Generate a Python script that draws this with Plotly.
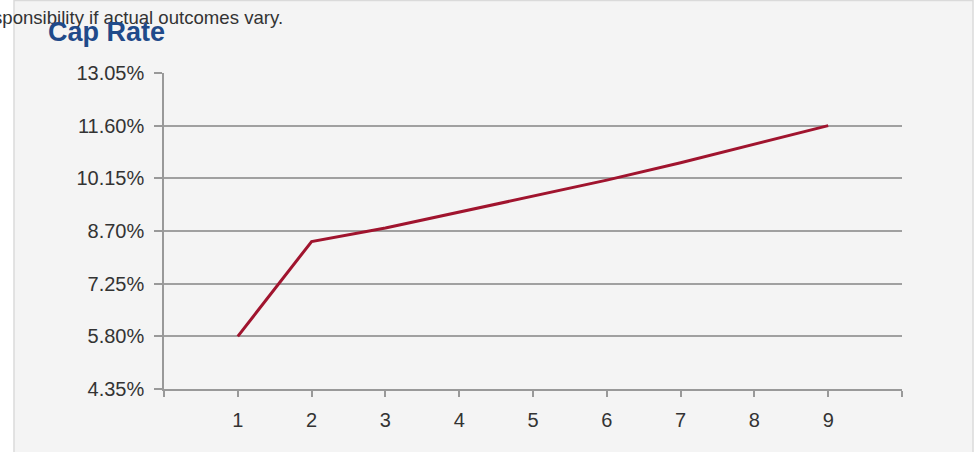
import plotly.graph_objects as go

years = [1, 2, 3, 4, 5, 6, 7, 8, 9]
cap_rate = [5.80, 8.41, 8.78, 9.22, 9.65, 10.10, 10.58, 11.08, 11.60]
y_ticks = [4.35, 5.80, 7.25, 8.70, 10.15, 11.60, 13.05]
y_labels = [f"{v:.2f}%" for v in y_ticks]
x_ticks = [0, 1, 2, 3, 4, 5, 6, 7, 8, 9, 10]
x_labels = ["", "1", "2", "3", "4", "5", "6", "7", "8", "9", ""]

W, H = 980, 452
L, T = 164, 73
R = W - 902
B = H - 389
pw, ph = W - L - R, H - T - B

def px(x):
    return (x - L) / pw

def py(y):
    return (H - B - y) / ph

fig = go.Figure()
fig.add_trace(go.Scatter(
    x=years, y=cap_rate, mode="lines",
    line=dict(color="#a0142e", width=3),
    hoverinfo="x+y",
))

fig.add_shape(type="rect", xref="paper", yref="paper",
              x0=px(14), x1=px(973), y0=py(470), y1=py(0.5),
              fillcolor="#f4f4f4", line=dict(color="#dadada", width=1.5),
              layer="below")

fig.add_annotation(xref="paper", yref="paper", x=px(285), y=py(18),
                   xanchor="right", yanchor="middle", showarrow=False,
                   text="sponsibility if actual outcomes vary.",
                   font=dict(family="Liberation Sans", size=18.6, color="#333333"))
fig.add_annotation(xref="paper", yref="paper", x=px(46), y=py(32),
                   xanchor="left", yanchor="middle", showarrow=False,
                   text="<b>Cap Rate</b>",
                   font=dict(family="Liberation Sans", size=27, color="#1f4a8a"))

fig.update_layout(
    width=W, height=H,
    margin=dict(l=L, r=R, t=T, b=B, pad=0),
    paper_bgcolor="white",
    plot_bgcolor="#f4f4f4",
    showlegend=False,
    font=dict(family="Liberation Sans", color="#333333"),
)
fig.update_xaxes(
    range=[0, 10], tickmode="array", tickvals=x_ticks, ticktext=x_labels,
    showgrid=False, zeroline=False,
    showline=True, linecolor="#999999", linewidth=1.5,
    ticks="outside", ticklen=6, tickcolor="#999999", tickwidth=1.5,
    tickfont=dict(size=20, color="#333333"), ticklabelstandoff=6,
)
fig.update_yaxes(
    range=[4.35, 13.05], tickmode="array", tickvals=y_ticks, ticktext=y_labels,
    showgrid=True, gridcolor="#a0a0a0", gridwidth=1.5, zeroline=False,
    showline=True, linecolor="#999999", linewidth=1.5,
    ticks="outside", ticklen=8, tickcolor="#999999", tickwidth=1.5,
    tickfont=dict(size=20, color="#333333"), ticklabelstandoff=6,
)

fig.write_html("out.html", config={"displayModeBar": False},
               post_script="document.body.style.margin='0';")
